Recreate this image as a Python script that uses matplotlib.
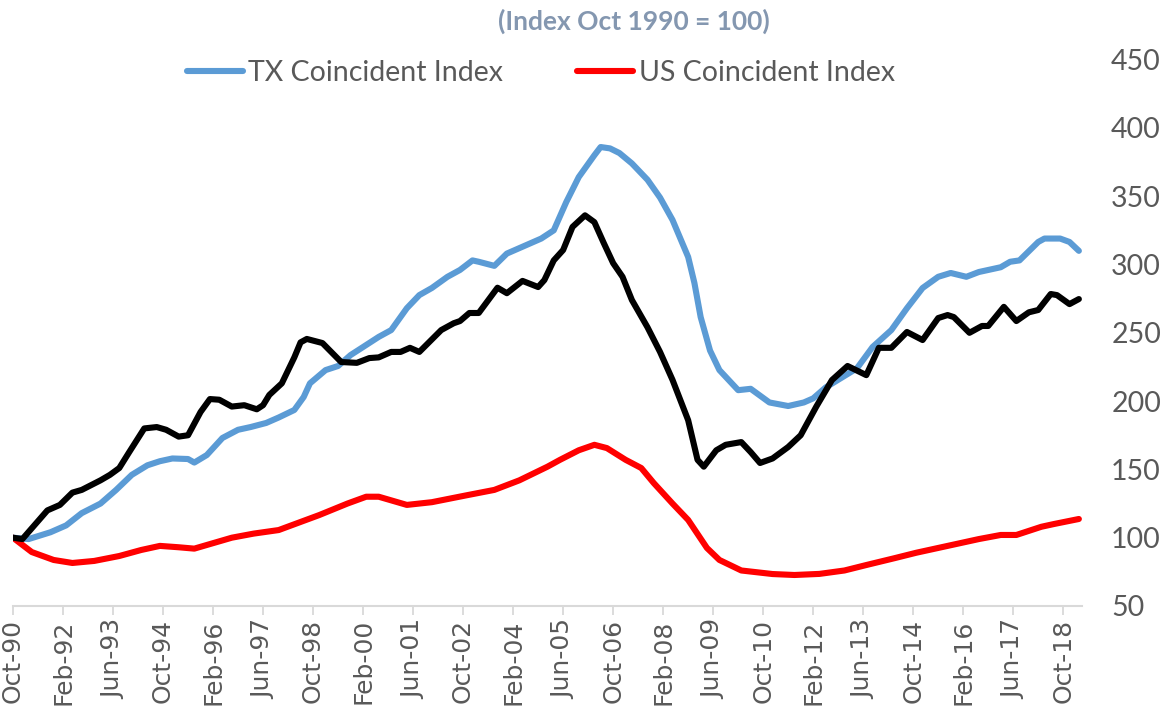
import numpy as np
import matplotlib
matplotlib.use("Agg")
import matplotlib.pyplot as plt

# months since Oct 1990 and index values (Oct 1990 = 100)
tx_month = [0, 5, 12, 17, 22, 28, 33, 38, 43, 47, 51, 56, 58, 62, 67, 72, 76, 81, 85,
            90, 93, 95, 100, 104, 108, 112, 117, 121, 126, 130, 134, 139, 143, 147, 149,
            154, 158, 164, 169, 173, 177, 181, 186, 188, 191, 194, 198, 203, 207, 211,
            216, 218, 220, 223, 226, 232, 236, 242, 248, 253, 256, 260, 265, 270, 275,
            281, 286, 291, 296, 300, 305, 309, 316, 319, 322, 328, 330, 335, 338, 341]
tx_index = [100, 99, 104, 109, 118, 125, 135, 146, 153, 156, 158, 157.6, 155, 160.5, 173,
            179, 181, 184, 188, 193.5, 203, 213, 222.7, 225.7, 233.7, 239.6, 247, 252, 268,
            277.6, 282.8, 291, 296, 303, 302, 299, 308, 314, 319, 325, 345.7, 364, 380, 386,
            385, 381.6, 374, 362, 349, 332.6, 305.5, 286.5, 261.5, 237, 222.7, 208, 209, 199,
            196.4, 199, 202, 210, 217, 224, 239.6, 252, 268, 282.8, 291, 293.8, 291, 294.5,
            298, 302, 303, 316.5, 319, 319, 316.5, 310]

us_month = [0, 6, 13, 19, 26, 34, 41, 47, 53, 58, 64, 70, 77, 85, 98, 107, 113, 117, 126,
            134, 145, 154, 162, 171, 175, 181, 186, 190, 196, 201, 205, 211, 216, 222, 226,
            233, 243, 250, 258, 266, 273, 282, 289, 299, 309, 316, 321, 329, 333, 341]
us_index = [100, 89.5, 83.7, 81.5, 83, 86.6, 91, 94, 93, 92, 96, 100, 103, 105.6, 116.6,
            125, 130, 130, 124, 126, 131, 135, 142, 152, 157, 164, 168, 165.6, 157, 151, 140,
            125, 113, 92.5, 83.7, 76, 73.4, 72.7, 73.5, 76, 80, 85, 89, 94, 99, 102, 102,
            108, 110, 113.7]

# third (unlabelled) series
other_month = [0, 3, 11, 15, 19, 22, 28, 31, 34, 37, 42, 46, 49, 53, 56, 60, 63, 66, 70,
               74, 78, 80, 82, 86, 90, 92, 94, 99, 105, 110, 114, 117, 121, 124, 127, 130,
               137, 141, 143, 146, 149, 155, 158, 163, 168, 170, 173, 176, 179, 183, 186,
               189, 192, 195, 198, 203, 207, 211, 216, 219, 221, 225, 228, 233, 236, 239,
               243, 248, 252, 257, 262, 267, 273, 277, 281, 286, 291, 296, 299, 301, 306,
               310, 312, 317, 321, 325, 328, 332, 334, 338, 341]
other_index = [100, 99, 120, 124, 133, 135, 142, 146, 151, 162, 180, 181, 179, 174, 175,
               192, 201.5, 201, 196, 197, 194, 197, 204.5, 213, 232, 243, 245.5, 242.5,
               228.6, 228, 231.5, 232, 236, 236, 239, 236, 252, 257, 258.6, 264.5, 264.5,
               283, 279, 288, 283.5, 288.6, 303, 310.6, 327.5, 336, 331, 315.7, 301, 291,
               274, 254, 236, 215.5, 186, 157, 152, 164, 168, 170, 162.7, 154.7, 158, 166.4,
               175, 196, 215.4, 225.7, 219, 239, 239, 250.6, 244.7, 260.8, 263, 261.5, 250,
               255, 255, 269, 258.6, 265, 266.7, 278.4, 277.6, 271, 274.7]

tick_labels = ['Oct-90', 'Feb-92', 'Jun-93', 'Oct-94', 'Feb-96', 'Jun-97', 'Oct-98',
               'Feb-00', 'Jun-01', 'Oct-02', 'Feb-04', 'Jun-05', 'Oct-06', 'Feb-08',
               'Jun-09', 'Oct-10', 'Feb-12', 'Jun-13', 'Oct-14', 'Feb-16', 'Jun-17', 'Oct-18']
tick_step = 16  # months between labels

fig = plt.figure(figsize=(11.69, 7.19), dpi=100)
ax = fig.add_axes([13 / 1169, 113 / 719, 1069 / 1169, 546.4 / 719])

lw = 4.4
kw = dict(solid_joinstyle='round', solid_capstyle='round')
ax.plot(tx_month, tx_index, color='#5B9BD5', lw=lw, label='TX Coincident Index', **kw)
ax.plot(us_month, us_index, color='#FF0000', lw=lw, label='US Coincident Index', **kw)
ax.plot(other_month, other_index, color='black', lw=lw, **kw)

ax.set_xlim(0, 342)
ax.set_ylim(50, 450)
ax.set_yticks(np.arange(50, 451, 50))
ax.yaxis.tick_right()
ax.tick_params(axis='y', length=0, pad=21, labelsize=20.5, labelcolor='#595959')
for t in ax.get_yticklabels():
    t.set_family('Lato')

ax.set_xticks(np.arange(len(tick_labels)) * tick_step)
ax.set_xticklabels(tick_labels, rotation=90, fontsize=18, color='#595959',
                   family='DejaVu Sans')
ax.tick_params(axis='x', length=6.5, width=1.3, color='#D9D9D9', pad=3)

for s in ['top', 'left', 'right']:
    ax.spines[s].set_visible(False)
ax.spines['bottom'].set_color('#D9D9D9')
ax.spines['bottom'].set_linewidth(1.5)

fig.text(634 / 1169, 1 - 21 / 719, '(Index Oct 1990 = 100)', ha='center', va='center',
         fontsize=19, fontweight='bold', color='#8497B0', family='Lato')

leg = fig.legend(loc='center', bbox_to_anchor=(541 / 1169, 1 - 73 / 719), ncol=2,
                 frameon=False, handlelength=1.95, handletextpad=0.2,
                 columnspacing=2.6, prop={'family': 'Lato', 'size': 20.5})
for t in leg.get_texts():
    t.set_color('#595959')

fig.savefig('out.png', dpi=100)
